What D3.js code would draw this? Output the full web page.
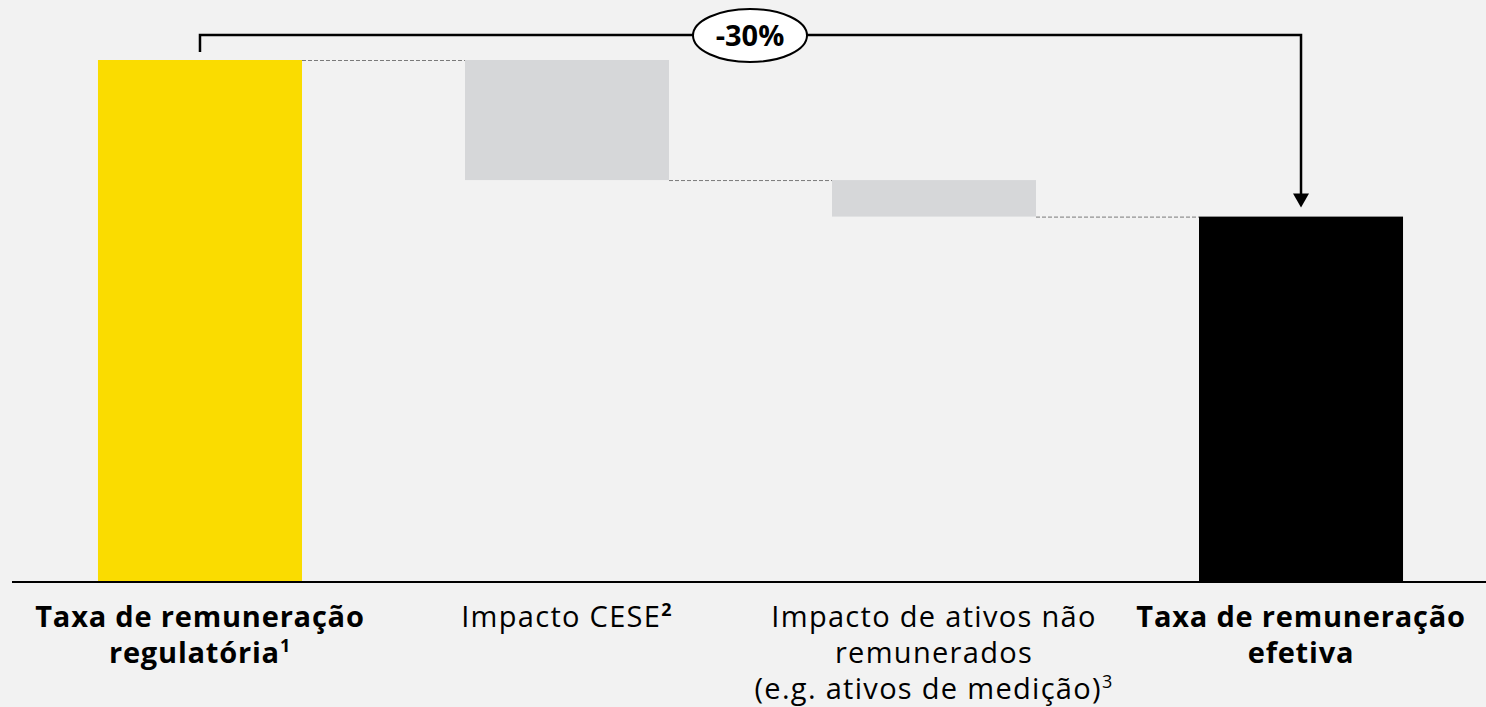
<!DOCTYPE html>
<html>
<head>
<meta charset="utf-8">
<script src="https://cdn.jsdelivr.net/npm/d3@7"></script>
<style>
  html, body { margin: 0; padding: 0; background: #f2f2f2; }
  svg { display: block; }
  text { font-family: "Open Sans", Lato, sans-serif; }
</style>
</head>
<body>
<svg id="chart" width="1486" height="707"></svg>
<script>
// ---- data ----
const categories = ["reg", "cese", "ativos", "efetiva"];
const labelLines = [
  ["Taxa de remuneração", "regulatória"],
  ["Impacto CESE"],
  ["Impacto de ativos não", "remunerados", "(e.g. ativos de medição)"],
  ["Taxa de remuneração", "efetiva"]
];
const footnotes = ["1", "2", "3", ""];
const footnoteBold = [true, true, false, false];
const boldLabel = [true, false, false, true];
const values = [100, -23, -7, 70];           // start, delta, delta, total
const barKinds = ["start", "delta", "delta", "total"];
const changeLabel = "-30%";

// ---- build waterfall segments ----
let running = 0;
const segs = categories.map((c, i) => {
  let y0, y1;
  if (barKinds[i] === "start" || barKinds[i] === "total") {
    y0 = 0; y1 = values[i]; running = values[i];
  } else {
    y0 = running + values[i]; y1 = running; running = y0;
  }
  return { cat: c, y0, y1, kind: barKinds[i], end: running };
});

const svg = d3.select("#chart");
const W = 1486, H = 707;
svg.append("rect").attr("width", W).attr("height", H).attr("fill", "#f2f2f2");

const x = d3.scaleBand().domain(categories).range([16.5, 1484.5])
  .paddingInner(0.4441).paddingOuter(0.222);
const y = d3.scaleLinear().domain([0, 100]).range([582, 60]);

const colors = { start: "#fadc00", delta: "#d6d7d9", total: "#000000" };

// connectors
for (let i = 0; i < segs.length - 1; i++) {
  const lvl = segs[i].end;
  svg.append("line")
    .attr("x1", x(categories[i]) + x.bandwidth())
    .attr("x2", x(categories[i + 1]))
    .attr("y1", y(lvl) + 0.5).attr("y2", y(lvl) + 0.5)
    .attr("stroke", "#7a7a7a").attr("stroke-width", 1)
    .attr("stroke-dasharray", "4,2");
}

// bars
svg.selectAll("rect.bar").data(segs).join("rect")
  .attr("class", "bar")
  .attr("x", d => x(d.cat))
  .attr("width", x.bandwidth())
  .attr("y", d => y(d.y1))
  .attr("height", d => y(d.y0) - y(d.y1))
  .attr("fill", d => colors[d.kind]);

// baseline
svg.append("line").attr("x1", 12).attr("x2", W).attr("y1", y(0)).attr("y2", y(0))
  .attr("stroke", "#000").attr("stroke-width", 2);

// bracket with arrow
const xs = x(categories[0]) + x.bandwidth() / 2;
const xe = x(categories[3]) + x.bandwidth() / 2;
const topY = y(values[0]) - 25;
const endY = y(values[3]) - 9;
svg.append("path")
  .attr("d", `M${xs},${y(values[0]) - 8} L${xs},${topY} L${xe},${topY} L${xe},${endY - 12}`)
  .attr("fill", "none").attr("stroke", "#000").attr("stroke-width", 2.5);
svg.append("path")
  .attr("d", `M${xe - 8},${endY - 14} L${xe + 8},${endY - 14} L${xe},${endY} Z`)
  .attr("fill", "#000");

// ellipse label
const cx = 750;
svg.append("ellipse").attr("cx", cx).attr("cy", topY + 0.5).attr("rx", 57).attr("ry", 26.5)
  .attr("fill", "#fff").attr("stroke", "#000").attr("stroke-width", 2);
svg.append("text").attr("x", cx).attr("y", topY + 11)
  .attr("text-anchor", "middle").attr("font-size", 29).attr("font-weight", 700)
  .attr("fill", "#000").text(changeLabel);

// category labels
categories.forEach((c, i) => {
  const cxl = x(c) + x.bandwidth() / 2;
  const t = svg.append("text")
    .attr("x", cxl)
    .attr("y", 627)
    .attr("text-anchor", "middle")
    .attr("font-size", 29)
    .attr("letter-spacing", boldLabel[i] ? 0.8 : 1.3)
    .attr("font-weight", boldLabel[i] ? 700 : 400)
    .attr("fill", "#000");
  const n = labelLines[i].length;
  labelLines[i].forEach((ln, k) => {
    t.append("tspan").attr("x", cxl).attr("y", 627 + k * 36).text(ln);
    if (k === n - 1 && footnotes[i]) {
      t.append("tspan").attr("dy", -11).attr("font-size", 18)
        .attr("font-weight", footnoteBold[i] ? 700 : 400)
        .text(footnotes[i]);
    }
  });
});
</script>
</body>
</html>
